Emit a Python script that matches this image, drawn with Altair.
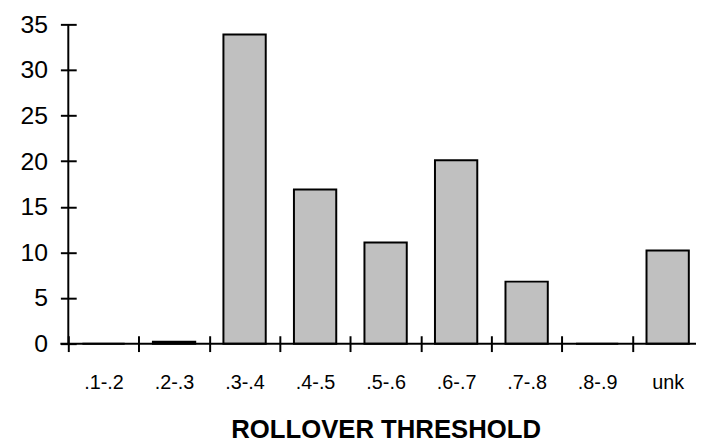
import altair as alt
import pandas as pd

categories = [".1-.2", ".2-.3", ".3-.4", ".4-.5", ".5-.6", ".6-.7", ".7-.8", ".8-.9", "unk"]
values = [0, 0.2, 33.9, 16.9, 11.1, 20.1, 6.8, 0, 10.2]
y_ticks = [0, 5, 10, 15, 20, 25, 30, 35]
x_title = "ROLLOVER THRESHOLD"

df = pd.DataFrame({"cat": categories, "val": values})

FONT = "Liberation Sans"

x_enc = alt.X(
    "cat:N",
    sort=categories,
    scale=alt.Scale(domain=categories, range=[0, 642], paddingInner=0, paddingOuter=0),
    axis=alt.Axis(
        title=x_title,
        tickBand="extent",
        offset=-8,
        tickSize=16,
        tickWidth=2,
        tickColor="black",
        domain=False,
        labelAngle=0,
        labelFontSize=20,
        labelFont=FONT,
        labelColor="black",
        labelPadding=21,
        titleFont=FONT,
        titleFontSize=26,
        titleFontWeight="bold",
        titleColor="black",
        titlePadding=25,
    ),
)
y_enc = alt.Y(
    "val:Q",
    scale=alt.Scale(domain=[0, 35], nice=False),
    axis=alt.Axis(
        title=None,
        values=y_ticks,
        offset=-8,
        tickSize=16,
        tickWidth=2,
        tickColor="black",
        domain=False,
        grid=False,
        labelFontSize=25,
        labelFont=FONT,
        labelColor="black",
        labelPadding=13,
    ),
)

bars = alt.Chart(df).mark_bar(
    width=alt.RelativeBandSize(0.6),
    fill="#c0c0c0",
    stroke="black",
    strokeWidth=2,
).encode(x=x_enc, y=y_enc)

one = alt.Data(values=[{}])
x_line = alt.Chart(one).mark_rule(color="black", strokeWidth=2).encode(
    x=alt.value(-8), x2=alt.value(660), y=alt.datum(0)
)
y_line = alt.Chart(one).mark_rule(color="black", strokeWidth=2).encode(
    x=alt.value(0), y=alt.datum(0), y2=alt.datum(35)
)

chart = alt.layer(bars, x_line, y_line).properties(
    width=635,
    height=323,
    autosize=alt.AutoSizeParams(type="none"),
    padding={"left": 61, "top": 14, "right": 0, "bottom": 103},
).configure_view(stroke=None)

chart.save("out.html", embed_options={"renderer": "svg", "actions": False})
